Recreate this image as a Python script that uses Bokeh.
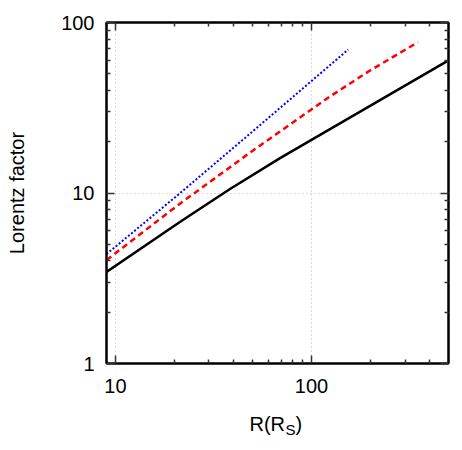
from bokeh.plotting import figure
from bokeh.models import FixedTicker, LogAxis, Range1d
from bokeh.layouts import column
from bokeh.core.properties import value
from bokeh.embed import file_html
from bokeh.resources import INLINE

# Data
black_x = [9.0, 21.4, 38.4, 68.8, 100, 490]
black_y = [3.44, 6.78, 10.56, 15.96, 20.5, 59.2]
red_x = [9.0, 21.4, 50.8, 123.3, 196.8, 349]
red_y = [4.04, 8.69, 17.9, 36.6, 51.9, 76.6]
blue_x = [9.0, 21.4, 49.5, 154]
blue_y = [4.38, 10.0, 22.7, 69.4]

x_major = [10, 100]
x_minor = [9, 20, 30, 40, 50, 60, 70, 80, 90, 200, 300, 400]
y_major = [1, 10, 100]
y_minor = [2, 3, 4, 5, 6, 7, 8, 9, 20, 30, 40, 50, 60, 70, 80, 90]
x_label_main = "R(R"
x_label_sub = "S"
x_label_end = ")"
y_label = "Lorentz factor"

FONT = "Liberation Sans"
FS = "20px"

p = figure(width=462, height=405, x_axis_type="log", y_axis_type="log",
           x_range=Range1d(9.0, 500), y_range=Range1d(1, 100),
           output_backend="svg", toolbar_location=None,
           min_border_left=106, min_border_right=14, min_border_top=22, min_border_bottom=42)
p.frame_width = 342
p.frame_height = 341

p.line(black_x, black_y, line_color="black", line_width=2.5)
p.line(red_x, red_y, line_color="red", line_width=2.5, line_dash="6 4")
p.line(blue_x, blue_y, line_color="blue", line_width=2, line_dash="2 2")

xt = FixedTicker(ticks=x_major, minor_ticks=x_minor)
yt = FixedTicker(ticks=y_major, minor_ticks=y_minor)

def style_axis(ax, labels=True):
    ax.axis_line_color = "black"
    ax.axis_line_width = 2
    ax.major_tick_in = 8
    ax.major_tick_out = 0
    ax.minor_tick_in = 4
    ax.minor_tick_out = 0
    ax.major_tick_line_color = "#333333"
    ax.minor_tick_line_color = "#333333"
    ax.major_tick_line_width = 1.5
    ax.minor_tick_line_width = 1.5
    ax.major_label_text_font = FONT
    ax.major_label_text_color = "black"
    ax.axis_label_text_font = FONT
    ax.axis_label_text_font_size = FS
    ax.axis_label_text_font_style = "normal"
    ax.axis_label_text_color = "black"
    if labels:
        ax.major_label_text_font_size = FS
    else:
        ax.major_label_text_font_size = "2px"
        ax.major_label_text_alpha = 0
        ax.major_label_standoff = 0

p.xaxis.ticker = xt
p.yaxis.ticker = yt
p.xaxis.major_label_overrides = {10: "10", 100: "100"}
p.yaxis.major_label_overrides = {1: "1", 10: "10", 100: "100"}
style_axis(p.xaxis[0])
style_axis(p.yaxis[0])
p.xaxis.major_label_standoff = 15
p.yaxis.major_label_standoff = 12
p.yaxis.axis_label = y_label
p.yaxis.axis_label_standoff = 30

top = LogAxis(ticker=FixedTicker(ticks=x_major, minor_ticks=x_minor))
right = LogAxis(ticker=FixedTicker(ticks=y_major, minor_ticks=y_minor))
style_axis(top, labels=False)
style_axis(right, labels=False)
p.add_layout(top, "above")
p.add_layout(right, "right")

p.xgrid.ticker = xt
p.ygrid.ticker = yt
for g in (p.xgrid[0], p.ygrid[0]):
    g.grid_line_color = "#bbbbbb"
    g.grid_line_dash = "1 3"
    g.grid_line_width = 1

p.outline_line_color = "black"
p.outline_line_width = 2
p.background_fill_color = "white"
p.border_fill_color = "white"

# x-axis title (with subscript) in a strip below the plot, pixel coordinates
q = figure(width=462, height=45, x_range=Range1d(0, 462), y_range=Range1d(0, 45),
           x_axis_location=None, y_axis_location=None,
           output_backend="svg", toolbar_location=None,
           min_border=0, min_border_left=0, min_border_right=0,
           min_border_top=0, min_border_bottom=0)
q.frame_width = 462
q.frame_height = 45
q.grid.visible = False
q.outline_line_color = None
q.background_fill_color = "white"
q.border_fill_color = "white"
q.text(x=[143], y=[27], text=[x_label_main], text_font=value(FONT),
       text_font_size="20px", text_baseline="alphabetic", text_align="left", text_color="black")
q.text(x=[179], y=[21], text=[x_label_sub], text_font=value(FONT),
       text_font_size="15px", text_baseline="alphabetic", text_align="left", text_color="black")
q.text(x=[189], y=[27], text=[x_label_end], text_font=value(FONT),
       text_font_size="20px", text_baseline="alphabetic", text_align="left", text_color="black")

layout = column(p, q, spacing=0)
open("out.html", "w").write(file_html(layout, INLINE))
